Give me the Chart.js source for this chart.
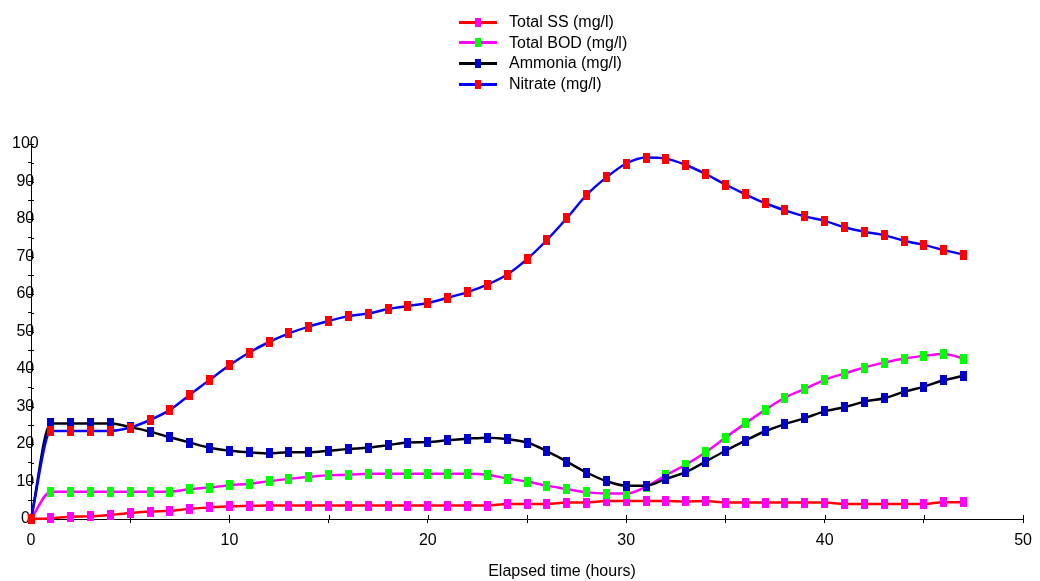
<!DOCTYPE html>
<html>
<head>
<meta charset="utf-8">
<script src="https://cdn.jsdelivr.net/npm/chart.js@4.4.0/dist/chart.umd.min.js"></script>
<style>
  body { margin: 0; background: #fff; font-family: "Liberation Sans", Arial, sans-serif; }
  #wrap { position: relative; width: 1040px; height: 581px; }
  #legend { position: absolute; left: 459px; top: 12px; }
  .row { display: flex; align-items: center; height: 20.6px; }
  .swatch { position: relative; width: 38px; height: 3px; }
  .swatch i { position: absolute; left: 16px; top: -3px; width: 6px; height: 9px; }
  .row span { margin-left: 12px; font-size: 16px; color: #000; }
  #xtitle { position: absolute; left: 562px; top: 562px; transform: translateX(-50%); font-size: 16px; color: #000; white-space: nowrap; }
</style>
</head>
<body>
<div id="wrap">
  <canvas id="chart" width="1040" height="581"></canvas>
  <div id="legend"></div>
  <div id="xtitle">Elapsed time (hours)</div>
</div>
<script>
// Elapsed time (hours)
const hours = [0, 1, 2, 3, 4, 5, 6, 7, 8, 9, 10, 11, 12, 13, 14, 15, 16, 17, 18, 19, 20, 21, 22, 23,
  24, 25, 26, 27, 28, 29, 30, 31, 32, 33, 34, 35, 36, 37, 38, 39, 40, 41, 42, 43, 44, 45, 46, 47];

const totalSS = [0, 0.2, 0.6, 0.7, 1.1, 1.6, 2.0, 2.2, 2.7, 3.1, 3.4, 3.5, 3.6, 3.6, 3.6, 3.6, 3.6, 3.6, 3.6, 3.6, 3.6, 3.6, 3.6, 3.6,
  4.0, 4.0, 4.0, 4.4, 4.4, 4.8, 4.8, 4.8, 4.8, 4.7, 4.8, 4.4, 4.4, 4.4, 4.4, 4.4, 4.4, 4.0, 4.0, 4.0, 4.0, 4.0, 4.5, 4.5];

const totalBOD = [0, 7.3, 7.3, 7.3, 7.3, 7.3, 7.3, 7.3, 8.0, 8.4, 9.0, 9.4, 10.1, 10.7, 11.2, 11.7, 11.8, 12.1, 12.1, 12.1, 12.1, 12.1, 12.1, 11.8,
  10.8, 10.0, 8.9, 8.0, 7.1, 6.8, 6.8, 8.6, 11.7, 14.5, 17.8, 21.7, 25.5, 29.1, 32.4, 34.7, 37.1, 38.8, 40.4, 41.7, 42.8, 43.5, 44.0, 42.8];

const ammonia = [0, 25.5, 25.5, 25.5, 25.5, 24.5, 23.3, 21.8, 20.4, 19.0, 18.2, 17.8, 17.5, 17.8, 17.8, 18.2, 18.7, 19.0, 19.7, 20.4, 20.5, 21.0, 21.4, 21.7,
  21.3, 20.4, 18.1, 15.3, 12.4, 10.1, 8.9, 8.9, 10.7, 12.5, 15.3, 18.2, 20.9, 23.4, 25.3, 26.9, 28.7, 29.8, 31.3, 32.2, 33.9, 35.3, 37.0, 38.2];

const nitrate = [0, 23.5, 23.5, 23.5, 23.5, 24.4, 26.4, 29.1, 33.1, 37.1, 41.0, 44.4, 47.2, 49.5, 51.3, 52.8, 54.1, 54.8, 56.0, 56.8, 57.6, 59.0, 60.5, 62.5,
  65.2, 69.3, 74.4, 80.2, 86.4, 91.1, 94.8, 96.4, 96.1, 94.4, 92.0, 89.2, 86.6, 84.2, 82.3, 80.7, 79.5, 77.8, 76.6, 75.7, 74.2, 73.1, 71.7, 70.5];

const seriesNames = ["Total SS (mg/l)", "Total BOD (mg/l)", "Ammonia (mg/l)", "Nitrate (mg/l)"];
const seriesValues = [totalSS, totalBOD, ammonia, nitrate];
const lineColors = ["#ff0000", "#ff00ff", "#000000", "#0000ff"];
const markerColors = ["#ff00ff", "#00ff00", "#0000c8", "#ff0000"];

// tall rectangular marker
function makeMarker(color) {
  const c = document.createElement("canvas");
  c.width = 7;
  c.height = 10;
  const g = c.getContext("2d");
  g.fillStyle = color;
  g.fillRect(0, 0, 7, 10);
  return c;
}

// ticks that cross the axis lines
const innerTicks = {
  id: "innerTicks",
  beforeDatasetsDraw(chart) {
    const ctx = chart.ctx, xs = chart.scales.x, ys = chart.scales.y;
    ctx.save();
    ctx.strokeStyle = "#000";
    ctx.lineWidth = 1;
    ctx.beginPath();
    xs.ticks.forEach(t => {
      const px = Math.round(xs.getPixelForValue(t.value)) + 0.5;
      ctx.moveTo(px, ys.bottom);
      ctx.lineTo(px, ys.bottom - 4);
    });
    ys.ticks.forEach(t => {
      const py = Math.round(ys.getPixelForValue(t.value)) + 0.5;
      ctx.moveTo(xs.left, py);
      ctx.lineTo(xs.left + 3, py);
    });
    ctx.stroke();
    ctx.restore();
  }
};

const datasets = seriesNames.map((name, i) => ({
  label: name,
  data: hours.map((h, j) => ({ x: h, y: seriesValues[i][j] })),
  borderColor: lineColors[i],
  backgroundColor: markerColors[i],
  borderWidth: 2.5,
  pointStyle: makeMarker(markerColors[i]),
  pointRadius: 5,
  cubicInterpolationMode: "monotone",
  clip: false,
  order: 4 - i
}));

// legend
const legend = document.getElementById("legend");
seriesNames.forEach((name, i) => {
  const row = document.createElement("div");
  row.className = "row";
  row.innerHTML = '<div class="swatch" style="background:' + lineColors[i] + '"><i style="background:' +
    markerColors[i] + '"></i></div><span>' + name + "</span>";
  legend.appendChild(row);
});

const tickFont = { family: '"Liberation Sans", Arial, sans-serif', size: 16 };

new Chart(document.getElementById("chart"), {
  type: "line",
  data: { datasets: datasets },
  options: {
    responsive: false,
    animation: false,
    devicePixelRatio: 1,
    layout: { padding: { top: 144, right: 15, left: 0, bottom: 0 } },
    plugins: { legend: { display: false }, tooltip: { enabled: false } },
    scales: {
      x: {
        type: "linear",
        min: 0,
        max: 50,
        afterFit: s => { s.height = 62; },
        ticks: {
          stepSize: 5,
          padding: 8,
          color: "#000",
          font: tickFont,
          maxRotation: 0,
          autoSkip: false,
          callback: v => (v % 10 === 0 ? v : "")
        },
        grid: { drawOnChartArea: false, color: "#000", tickLength: 4 },
        border: { color: "#000", width: 1 }
      },
      y: {
        min: 0,
        max: 100,
        afterFit: s => { s.width = 31; },
        ticks: {
          stepSize: 5,
          mirror: true,
          crossAlign: "center",
          padding: -19,
          color: "#000",
          font: tickFont,
          autoSkip: false,
          callback: v => (v % 10 === 0 ? v : "")
        },
        grid: { drawOnChartArea: false, color: "#000", tickLength: 3 },
        border: { color: "#000", width: 1 }
      }
    }
  },
  plugins: [innerTicks]
});
</script>
</body>
</html>
